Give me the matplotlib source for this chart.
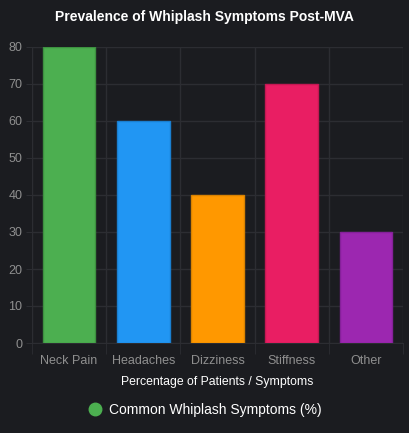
import numpy as np
import matplotlib.pyplot as plt

plt.rcParams['font.family'] = ['Liberation Sans', 'DejaVu Sans']

symptoms = ['Neck Pain', 'Headaches', 'Dizziness', 'Stiffness', 'Other']
percent = [80, 60, 40, 70, 30]
colors = ['#4CAF50', '#2196F3', '#FF9800', '#E91E63', '#9C27B0']
edges = ['#3d9140', '#1a7fd0', '#d98200', '#c41853', '#85209a']

bg = '#1b1c20'
grid = '#2c2d32'

fig = plt.figure(figsize=(4.09, 4.33), dpi=100, facecolor=bg)
ax = fig.add_axes([32/409, 90/433, 371/409, 296/433], facecolor=bg)

x = np.arange(len(symptoms))
ax.bar(x, percent, width=0.71, color=colors, edgecolor=edges, linewidth=1, zorder=3)

ax.set_xlim(-0.5, len(symptoms) - 0.5)
ax.set_ylim(0, 80)
ax.set_yticks(range(0, 81, 10))
ax.set_xticks(x)
ax.set_xticklabels(symptoms)
ax.set_xticks(np.arange(-0.5, len(symptoms)), minor=True)
ax.grid(True, which='minor', axis='x', color=grid, linewidth=1, zorder=0)
ax.grid(True, which='major', axis='y', color=grid, linewidth=1, zorder=0)
ax.tick_params(axis='x', which='major', length=0, pad=9, labelsize=9, labelcolor='#8f8f8f')
ax.tick_params(axis='x', which='minor', length=8, color=grid)
ax.tick_params(axis='y', length=4, color=grid, pad=3, labelsize=9, labelcolor='#8f8f8f')
for s in ax.spines.values():
    s.set_visible(False)
ax.spines['bottom'].set_visible(True)
ax.spines['bottom'].set_color(grid)
ax.spines['left'].set_visible(True)
ax.spines['left'].set_color(grid)

ax.set_xlabel('Percentage of Patients / Symptoms', color='white', fontsize=8.8, labelpad=6)
fig.text(0.5, 1 - 17/433, 'Prevalence of Whiplash Symptoms Post-MVA', ha='center', va='center',
         color='white', fontsize=10, fontweight='bold')

handle = plt.Line2D([], [], marker='o', linestyle='', markersize=9,
                    markerfacecolor=colors[0], markeredgecolor=colors[0])
fig.legend([handle], ['Common Whiplash Symptoms (%)'], loc='center',
           bbox_to_anchor=(0.5, 1 - 410/433), frameon=False, fontsize=10,
           labelcolor='white', handletextpad=0.4, handlelength=1.2)

fig.savefig('out.png', dpi=100, facecolor=bg)
